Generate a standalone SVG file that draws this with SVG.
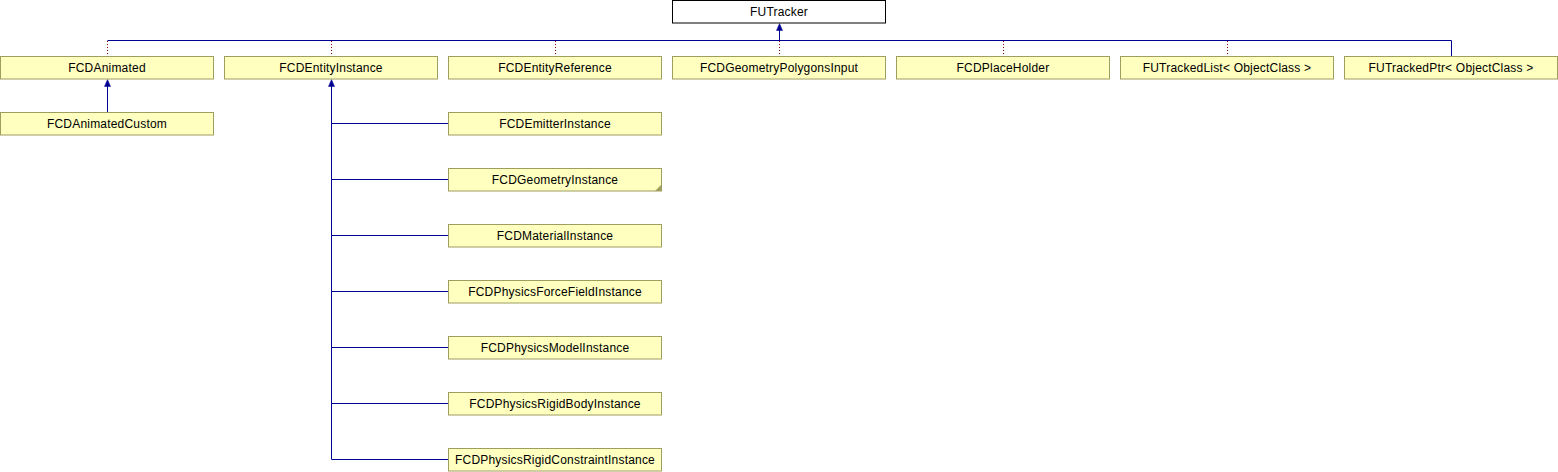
<svg xmlns="http://www.w3.org/2000/svg" width="1558" height="472" viewBox="0 0 1558 472">
<style>
.n{fill:#ffffc0;stroke:#9e9e5e;stroke-width:1}
.r{fill:#ffffff;stroke:#000000;stroke-width:1}
.t{font-family:"Liberation Sans",Arial,sans-serif;font-size:12px;letter-spacing:0.2px;fill:#000000;text-anchor:middle}
.b{fill:none;stroke:#000090;stroke-width:1}
.d{fill:none;stroke:#800000;stroke-width:1;stroke-dasharray:1,2}
.h{fill:#000090;stroke:#000090;stroke-width:0.5}
</style>
<g id="connectors">
<path class="b" d="M779.5,40.5 V28"/>
<path class="h" d="M779.5,23.5 L782.5,30.5 L776.5,30.5 Z"/>
<path class="b" d="M107.5,40.5 H1451.5 V56"/>
<path class="d" d="M107.5,41 V56"/>
<path class="d" d="M331.5,41 V56"/>
<path class="d" d="M555.5,41 V56"/>
<path class="d" d="M779.5,41 V56"/>
<path class="d" d="M1003.5,41 V56"/>
<path class="d" d="M1227.5,41 V56"/>
<path class="b" d="M107.5,112 V84"/>
<path class="h" d="M107.5,79.5 L110.5,86.5 L104.5,86.5 Z"/>
<path class="b" d="M448,459.5 H331.5 V84"/>
<path class="h" d="M331.5,79.5 L334.5,86.5 L328.5,86.5 Z"/>
<path class="b" d="M331.5,123.5 H448"/>
<path class="b" d="M331.5,179.5 H448"/>
<path class="b" d="M331.5,235.5 H448"/>
<path class="b" d="M331.5,291.5 H448"/>
<path class="b" d="M331.5,347.5 H448"/>
<path class="b" d="M331.5,403.5 H448"/>
</g>
<g id="FUTracker"><rect class="r" x="672.5" y="0.5" width="213" height="22.5"/><text class="t" x="779" y="15.5">FUTracker</text></g>
<g id="FCDAnimated"><rect class="n" x="0.5" y="56.5" width="213" height="22.5"/><text class="t" x="107" y="71.5">FCDAnimated</text></g>
<g id="FCDEntityInstance"><rect class="n" x="224.5" y="56.5" width="213" height="22.5"/><text class="t" x="331" y="71.5">FCDEntityInstance</text></g>
<g id="FCDEntityReference"><rect class="n" x="448.5" y="56.5" width="213" height="22.5"/><text class="t" x="555" y="71.5">FCDEntityReference</text></g>
<g id="FCDGeometryPolygonsInput"><rect class="n" x="672.5" y="56.5" width="213" height="22.5"/><text class="t" x="779" y="71.5">FCDGeometryPolygonsInput</text></g>
<g id="FCDPlaceHolder"><rect class="n" x="896.5" y="56.5" width="213" height="22.5"/><text class="t" x="1003" y="71.5">FCDPlaceHolder</text></g>
<g id="FUTrackedList"><rect class="n" x="1120.5" y="56.5" width="213" height="22.5"/><text class="t" x="1227" y="71.5">FUTrackedList&lt; ObjectClass &gt;</text></g>
<g id="FUTrackedPtr"><rect class="n" x="1344.5" y="56.5" width="213" height="22.5"/><text class="t" x="1451" y="71.5">FUTrackedPtr&lt; ObjectClass &gt;</text></g>
<g id="FCDAnimatedCustom"><rect class="n" x="0.5" y="112.5" width="213" height="22.5"/><text class="t" x="107" y="127.5">FCDAnimatedCustom</text></g>
<g id="FCDEmitterInstance"><rect class="n" x="448.5" y="112.5" width="213" height="22.5"/><text class="t" x="555" y="127.5">FCDEmitterInstance</text></g>
<g id="FCDGeometryInstance"><rect class="n" x="448.5" y="168.5" width="213" height="22.5"/><path d="M655,191 L661.5,184.5 L661.5,191 Z" fill="#9e9e5e"/><text class="t" x="555" y="183.5">FCDGeometryInstance</text></g>
<g id="FCDMaterialInstance"><rect class="n" x="448.5" y="224.5" width="213" height="22.5"/><text class="t" x="555" y="239.5">FCDMaterialInstance</text></g>
<g id="FCDPhysicsForceFieldInstance"><rect class="n" x="448.5" y="280.5" width="213" height="22.5"/><text class="t" x="555" y="295.5">FCDPhysicsForceFieldInstance</text></g>
<g id="FCDPhysicsModelInstance"><rect class="n" x="448.5" y="336.5" width="213" height="22.5"/><text class="t" x="555" y="351.5">FCDPhysicsModelInstance</text></g>
<g id="FCDPhysicsRigidBodyInstance"><rect class="n" x="448.5" y="392.5" width="213" height="22.5"/><text class="t" x="555" y="407.5">FCDPhysicsRigidBodyInstance</text></g>
<g id="FCDPhysicsRigidConstraintInstance"><rect class="n" x="448.5" y="448.5" width="213" height="22.5"/><text class="t" x="555" y="463.5">FCDPhysicsRigidConstraintInstance</text></g>
</svg>
